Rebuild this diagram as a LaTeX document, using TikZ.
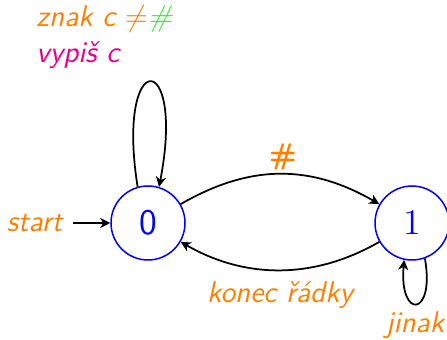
\documentclass[tikz,border=0pt]{standalone}
\usetikzlibrary{arrows.meta}
\definecolor{lblorange}{RGB}{255,128,0}
\definecolor{lblpink}{RGB}{230,0,140}
\definecolor{lblgreen}{RGB}{40,240,40}
\definecolor{stblue}{RGB}{0,0,255}
\begin{document}
\begin{tikzpicture}[x=0.4pt,y=0.4pt,
  state/.style={circle,draw=stblue,text=stblue,line width=0.6pt,minimum size=29.6pt,inner sep=0pt,font=\Large\sffamily},
  edge/.style={draw=black,line width=0.7pt,-{Stealth[length=4pt,width=4pt,inset=1.2pt]}},
  lbl/.style={text=lblorange,font=\large\sffamily\itshape,inner sep=0pt}]
\useasboundingbox (0,0) rectangle (447,340);
\node[state] (n0) at (148,117) {0};
\node[state,font=\Large] (n1) at (412,117) {$1$};
\coordinate (s) at (73,117);
\node[lbl,anchor=east] (lstart) at (63,117) {start};
\draw[edge] (s) -- (n0);
\draw[edge] (n0.106) .. controls +(99:142) and +(79:142) .. (n0.73);
\node[lbl,anchor=west] (l1) at (36,321) {znak c $\neq$\textcolor{lblgreen}{\#}};
\node[lbl,anchor=west,text=lblpink] (l2) at (36,285) {vypiš c};
\draw[edge] (n0.30) .. controls +(30:80) and +(150:80) .. (n1.150);
\node[lbl,font=\large\sffamily\bfseries] (lhash) at (283,183) {\#};
\draw[edge] (n1.210) .. controls +(210:75) and +(330:75) .. (n0.330);
\node[lbl] (lkonec) at (280,45) {konec řádky};
\draw[edge] (n1.290) .. controls +(-80:60) and +(-95:60) .. (n1.258);
\node[lbl] (ljinak) at (415,15) {jinak};
\end{tikzpicture}
\end{document}
